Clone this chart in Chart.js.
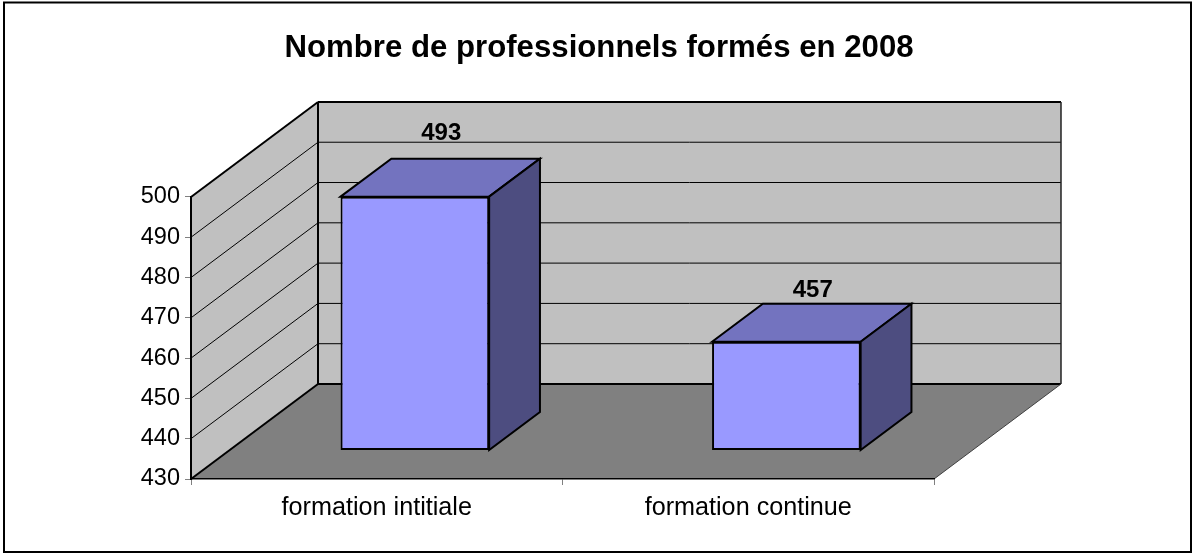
<!DOCTYPE html>
<html>
<head>
<meta charset="utf-8">
<title>Nombre de professionnels formés en 2008</title>
<script src="https://cdn.jsdelivr.net/npm/chart.js@4"></script>
<style>
  html, body { margin: 0; padding: 0; background: #fff; }
  #wrap { width: 1192px; height: 553px; }
</style>
</head>
<body>
<div id="wrap"><canvas id="chart"></canvas></div>
<script>
const titleText = 'Nombre de professionnels formés en 2008';
const categories = ['formation intitiale', 'formation continue'];
const values = [493, 457];
const axisMin = 430;
const axisMax = 500;
const axisStep = 10;

// Excel style 3D box: how far the back wall sits from the front plane
const DEPTH_X = 127;
const DEPTH_Y = 95;
const BAR_GAP = 0.3;    // part of the depth in front of the bars
const BAR_DEPTH = 0.4;  // part of the depth taken by the bars
const LABEL_LIFT = [19, 7];  // the labels do not sit at the same height over their bars

function poly(ctx, pts, fill, stroke, lw) {
    ctx.beginPath();
    pts.forEach((p, i) => i ? ctx.lineTo(p[0], p[1]) : ctx.moveTo(p[0], p[1]));
    ctx.closePath();
    if (fill) { ctx.fillStyle = fill; ctx.fill(); }
    if (stroke) { ctx.strokeStyle = stroke; ctx.lineWidth = lw; ctx.lineJoin = 'miter'; ctx.stroke(); }
}

function line(ctx, x1, y1, x2, y2, lw, color) {
    ctx.beginPath();
    ctx.moveTo(x1, y1);
    ctx.lineTo(x2, y2);
    ctx.strokeStyle = color || '#000';
    ctx.lineWidth = lw;
    ctx.stroke();
}

const box3d = {
    id: 'box3d',
    afterLayout(chart) {
        // title is centred on the whole picture, not on the padded box
        chart.titleBlock.left = 0;
        chart.titleBlock.right = 1198;
    },
    // walls and floor go under the scales
    beforeDraw(chart) {
        const ctx = chart.ctx;
        const { left, right, top, bottom } = chart.chartArea;
        const y = chart.scales.y;
        ctx.save();
        ctx.fillStyle = '#fff';
        ctx.fillRect(0, 0, chart.width, chart.height);
        ctx.strokeStyle = '#000';
        ctx.lineWidth = 2;
        ctx.strokeRect(4, 2.5, 1187, 549.5);

        const bx = left + DEPTH_X, by = bottom - DEPTH_Y, ty = top - DEPTH_Y;
        poly(ctx, [[left, bottom], [left, top], [bx, ty], [bx, by]], '#c0c0c0');
        poly(ctx, [[bx, ty], [right + DEPTH_X, ty], [right + DEPTH_X, by], [bx, by]], '#c0c0c0');
        poly(ctx, [[left, bottom], [right, bottom], [right + DEPTH_X, by], [bx, by]], '#808080');

        y.ticks.forEach(t => {
            const py = y.getPixelForValue(t.value);
            if (t.value > axisMin && t.value < axisMax) {
                line(ctx, left, py, bx, py - DEPTH_Y, 1);
                line(ctx, bx, py - DEPTH_Y, right + DEPTH_X, py - DEPTH_Y, 1);
            }
        });
        line(ctx, left, top, bx, ty, 2);
        line(ctx, left, bottom, bx, by, 2);
        line(ctx, bx, ty, right + DEPTH_X, ty, 2);
        line(ctx, bx, ty, bx, by, 2);
        line(ctx, bx, by, right + DEPTH_X, by, 2);
        line(ctx, right + DEPTH_X, ty, right + DEPTH_X, by, 1.5, '#222');
        line(ctx, right, bottom, right + DEPTH_X, by, 1, '#404040');
        ctx.restore();
    },
    // push each bar back to its place in the depth and draw top and side first
    beforeDatasetDraw(chart, args) {
        const ctx = chart.ctx;
        const ox = DEPTH_X * BAR_GAP, oy = DEPTH_Y * BAR_GAP;
        const dx = DEPTH_X * BAR_DEPTH, dy = DEPTH_Y * BAR_DEPTH;
        ctx.save();
        ctx.translate(ox, -oy);
        args.meta.data.forEach(bar => {
            const l = bar.x - bar.width / 2, r = bar.x + bar.width / 2;
            poly(ctx, [[l, bar.y], [l + dx, bar.y - dy], [r + dx, bar.y - dy], [r, bar.y]], '#7373bf', '#000', 2);
            poly(ctx, [[r, bar.y], [r + dx, bar.y - dy], [r + dx, bar.base - dy], [r, bar.base]], '#4d4d80', '#000', 2);
        });
    },
    afterDatasetDraw(chart, args) {
        const ctx = chart.ctx;
        ctx.restore();
        const dx = DEPTH_X * (BAR_GAP + BAR_DEPTH / 2), dy = DEPTH_Y * (BAR_GAP + BAR_DEPTH);
        ctx.save();
        ctx.fillStyle = '#000';
        ctx.font = 'bold 24px "Liberation Sans"';
        ctx.textAlign = 'center';
        ctx.textBaseline = 'alphabetic';
        args.meta.data.forEach((bar, i) => {
            ctx.fillText(String(values[i]), bar.x + dx + 1, bar.y - dy - LABEL_LIFT[i]);
        });
        ctx.restore();
    },
};

new Chart(document.getElementById('chart'), {
    type: 'bar',
    data: {
        labels: categories,
        datasets: [{
            data: values,
            base: axisMin,
            backgroundColor: '#9999ff',
            borderColor: '#000',
            borderWidth: 2,
            borderSkipped: false,
            categoryPercentage: 0.4,
            barPercentage: 1,
        }],
    },
    options: {
        responsive: true,
        maintainAspectRatio: false,
        animation: false,
        layout: { padding: { left: 0, right: 258, top: 0, bottom: 0 } },
        scales: {
            x: {
                grid: { drawOnChartArea: false, drawTicks: true, tickLength: 6, color: '#808080' },
                border: { display: true, color: '#000', width: 1.5 },
                ticks: { color: '#000', font: { family: '"Liberation Sans"', size: 25.2 }, padding: 8, maxRotation: 0 },
                afterFit: s => { s.height = 74; },
            },
            y: {
                min: axisMin,
                max: axisMax,
                grid: { drawOnChartArea: false, drawTicks: true, tickLength: 6, color: '#808080' },
                border: { display: true, color: '#000', width: 2 },
                ticks: { stepSize: axisStep, color: '#000', font: { family: '"Liberation Sans"', size: 23.5 }, padding: 5 },
                afterFit: s => { s.width = 191; },
            },
        },
        plugins: {
            legend: { display: false },
            tooltip: { enabled: false },
            title: {
                display: true,
                text: titleText,
                color: '#000',
                font: { family: '"Liberation Sans"', size: 31.2, weight: 'bold' },
                padding: { top: 30, bottom: 129.5 },
            },
        },
    },
    plugins: [box3d],
});
</script>
</body>
</html>
